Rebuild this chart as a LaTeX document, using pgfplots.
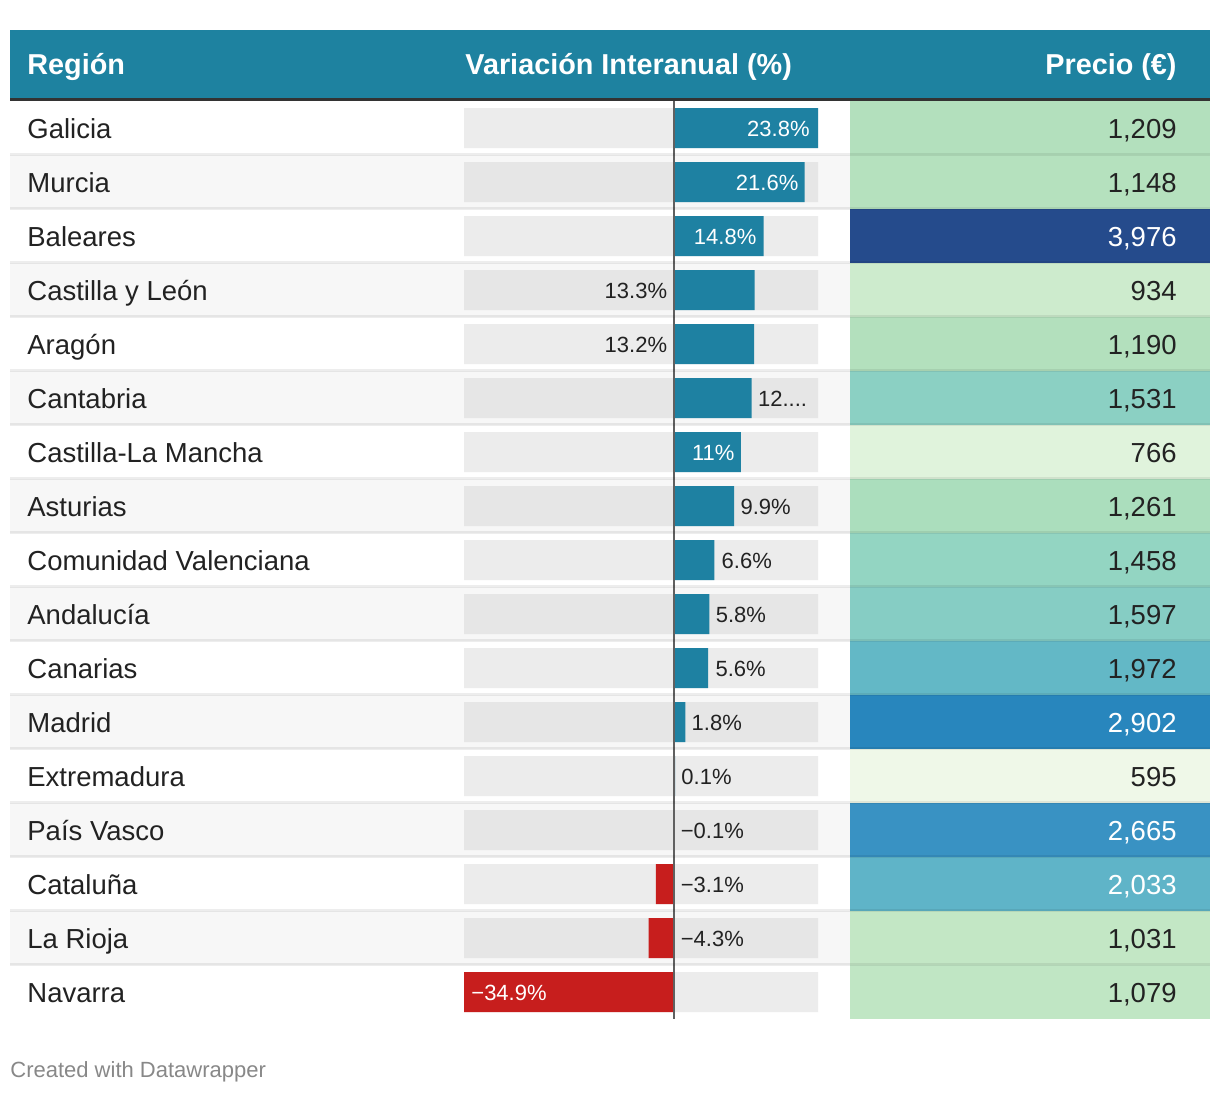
\documentclass[border=0pt]{standalone}
\usepackage{pgfplots}
\pgfplotsset{compat=1.18}
\usepackage{fontspec}
\setmainfont{Liberation Sans}
\definecolor{hdr}{HTML}{1E82A0}
\definecolor{hline}{HTML}{333333}
\definecolor{rowgray}{HTML}{F7F7F7}
\definecolor{txt}{HTML}{222222}
\definecolor{barpos}{HTML}{1E81A2}
\definecolor{barneg}{HTML}{C71E1D}
\definecolor{bgA}{HTML}{ECECEC}
\definecolor{bgB}{HTML}{E6E6E6}
\definecolor{zline}{HTML}{606060}
\definecolor{foot}{HTML}{888888}
% price colours
\definecolor{pGal}{HTML}{B3E0BD}
\definecolor{pMur}{HTML}{B5E1BE}
\definecolor{pBal}{HTML}{254B8C}
\definecolor{pCyL}{HTML}{CDEBCD}
\definecolor{pAra}{HTML}{B3E0BD}
\definecolor{pCan}{HTML}{8BD0C3}
\definecolor{pCLM}{HTML}{E0F3DC}
\definecolor{pAst}{HTML}{ABDEBD}
\definecolor{pCV}{HTML}{93D5C2}
\definecolor{pAnd}{HTML}{86CDC4}
\definecolor{pCnr}{HTML}{63B8C6}
\definecolor{pMad}{HTML}{2886BD}
\definecolor{pExt}{HTML}{EFF8E8}
\definecolor{pPV}{HTML}{3992C3}
\definecolor{pCat}{HTML}{5FB4C8}
\definecolor{pRio}{HTML}{C3E7C5}
\definecolor{pNav}{HTML}{C0E6C4}
\newcommand\rowfont{\fontsize{13.75}{16}\selectfont}
\newcommand\hdrfont{\fontsize{14.4}{16}\selectfont\bfseries}
\newcommand\lblfont{\fontsize{11}{13}\selectfont}
\newcommand\footfont{\fontsize{11}{13}\selectfont}
\newcommand\pricerow[5]{%
  \pgfmathsetmacro\ytop{101+(#1-1)*54}%
  \fill[#4] (850,\ytop) rectangle (1210,\ytop+54);
  \node[anchor=base west,inner sep=0,text=txt,font=\rowfont] at (27,\ytop+37) {#2};
  \node[anchor=base east,inner sep=0,text=#5,font=\rowfont] at (1177,\ytop+37) {#3};
}
\begin{document}
\begin{tikzpicture}
\begin{scope}[x=0.5pt,y=-0.5pt]
\useasboundingbox (0,0) rectangle (1220,1094);
\fill[white] (0,0) rectangle (1220,1094);
% header
\fill[hdr] (10,30) rectangle (1210,98);
\fill[hline] (10,97.5) rectangle (1210,100.5);
\node[anchor=base west,inner sep=0,text=white,font=\hdrfont] at (27,74) {Región};
\node[anchor=base west,inner sep=0,text=white,font=\hdrfont] at (465,74) {Variación Interanual (\%)};
\node[anchor=base east,inner sep=0,text=white,font=\hdrfont] at (1177,74) {Precio (€)};
% row backgrounds
\foreach \i in {2,4,...,16} {
  \fill[rowgray] (10,{101+(\i-1)*54}) rectangle (850,{101+\i*54});
}
\pricerow{1}{Galicia}{1,209}{pGal}{txt}
\pricerow{2}{Murcia}{1,148}{pMur}{txt}
\pricerow{3}{Baleares}{3,976}{pBal}{white}
\pricerow{4}{Castilla y León}{934}{pCyL}{txt}
\pricerow{5}{Aragón}{1,190}{pAra}{txt}
\pricerow{6}{Cantabria}{1,531}{pCan}{txt}
\pricerow{7}{Castilla-La Mancha}{766}{pCLM}{txt}
\pricerow{8}{Asturias}{1,261}{pAst}{txt}
\pricerow{9}{Comunidad Valenciana}{1,458}{pCV}{txt}
\pricerow{10}{Andalucía}{1,597}{pAnd}{txt}
\pricerow{11}{Canarias}{1,972}{pCnr}{txt}
\pricerow{12}{Madrid}{2,902}{pMad}{white}
\pricerow{13}{Extremadura}{595}{pExt}{txt}
\pricerow{14}{País Vasco}{2,665}{pPV}{white}
\pricerow{15}{Cataluña}{2,033}{pCat}{white}
\pricerow{16}{La Rioja}{1,031}{pRio}{txt}
\pricerow{17}{Navarra}{1,079}{pNav}{txt}
\node[anchor=base west,inner sep=0,text=foot,font=\footfont] at (10,1077) {Created with Datawrapper};
\end{scope}
\begin{axis}[
  at={(232pt,-509.5pt)}, anchor=south west,
  width=177pt, height=459pt, scale only axis,
  xmin=-34.9, xmax=23.8, ymin=0.5, ymax=17.5, y dir=reverse,
  hide axis, clip=false,
  xbar, bar width=20pt, bar shift=0pt,
]
% grey background bars
\addplot[fill=bgA, draw=none] coordinates {(-34.9,1) (-34.9,3) (-34.9,5) (-34.9,7) (-34.9,9) (-34.9,11) (-34.9,13) (-34.9,15) (-34.9,17)};
\addplot[fill=bgA, draw=none] coordinates {(23.8,1) (23.8,3) (23.8,5) (23.8,7) (23.8,9) (23.8,11) (23.8,13) (23.8,15) (23.8,17)};
\addplot[fill=bgB, draw=none] coordinates {(-34.9,2) (-34.9,4) (-34.9,6) (-34.9,8) (-34.9,10) (-34.9,12) (-34.9,14) (-34.9,16)};
\addplot[fill=bgB, draw=none] coordinates {(23.8,2) (23.8,4) (23.8,6) (23.8,8) (23.8,10) (23.8,12) (23.8,14) (23.8,16)};
% positive values
\addplot[fill=barpos, draw=none] coordinates {(23.8,1) (21.6,2) (14.8,3) (13.3,4) (13.2,5) (12.8,6) (11.0,7) (9.9,8) (6.6,9) (5.8,10) (5.6,11) (1.8,12) (0.1,13)};
% negative values
\addplot[fill=barneg, draw=none] coordinates {(-0.1,14) (-3.1,15) (-4.3,16) (-34.9,17)};
\draw[zline, line width=1pt] (axis cs:0,0.5) -- (axis cs:0,17.5);
% labels
\tikzset{lab/.style={inner sep=0, font=\lblfont, yshift=-4pt}}
\node[lab, anchor=base east, text=white, xshift=-4pt] at (axis cs:23.8,1) {23.8\%};
\node[lab, anchor=base east, text=white, xshift=-3pt] at (axis cs:21.6,2) {21.6\%};
\node[lab, anchor=base east, text=white, xshift=-3.5pt] at (axis cs:14.8,3) {14.8\%};
\node[lab, anchor=base east, text=txt, xshift=-3.5pt] at (axis cs:0,4) {13.3\%};
\node[lab, anchor=base east, text=txt, xshift=-3.5pt] at (axis cs:0,5) {13.2\%};
\node[lab, anchor=base west, text=txt, xshift=3pt] at (axis cs:12.8,6) {12....};
\node[lab, anchor=base east, text=white, xshift=-3pt] at (axis cs:11.0,7) {11\%};
\node[lab, anchor=base west, text=txt, xshift=3pt] at (axis cs:9.9,8) {9.9\%};
\node[lab, anchor=base west, text=txt, xshift=3.5pt] at (axis cs:6.6,9) {6.6\%};
\node[lab, anchor=base west, text=txt, xshift=3pt] at (axis cs:5.8,10) {5.8\%};
\node[lab, anchor=base west, text=txt, xshift=3.5pt] at (axis cs:5.6,11) {5.6\%};
\node[lab, anchor=base west, text=txt, xshift=3pt] at (axis cs:1.8,12) {1.8\%};
\node[lab, anchor=base west, text=txt, xshift=3pt] at (axis cs:0.1,13) {0.1\%};
\node[lab, anchor=base west, text=txt, xshift=3pt] at (axis cs:0,14) {−0.1\%};
\node[lab, anchor=base west, text=txt, xshift=3pt] at (axis cs:0,15) {−3.1\%};
\node[lab, anchor=base west, text=txt, xshift=3pt] at (axis cs:0,16) {−4.3\%};
\node[lab, anchor=base west, text=white, xshift=3.5pt] at (axis cs:-34.9,17) {−34.9\%};
\end{axis}
\begin{scope}[x=0.5pt,y=-0.5pt]
\foreach \i in {1,...,16} {
  \fill[black, opacity=0.07] (10,{101+\i*54-2}) rectangle (1210,{101+\i*54+1});
}
\end{scope}
\end{tikzpicture}
\end{document}
